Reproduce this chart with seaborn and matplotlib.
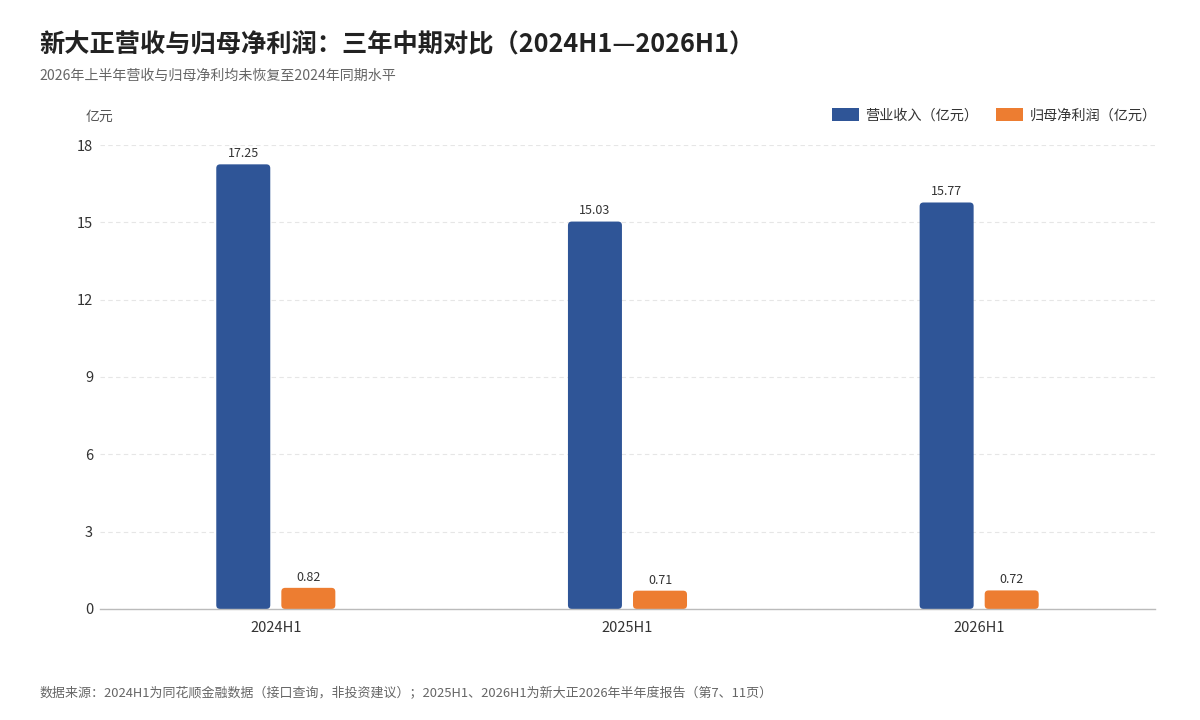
import pandas as pd
import matplotlib
matplotlib.use("Agg")
import matplotlib.pyplot as plt
from matplotlib.patches import FancyBboxPatch, Patch
import seaborn as sns

# data
periods = ["2024H1", "2025H1", "2026H1"]
revenue = [17.25, 15.03, 15.77]
net_profit = [0.82, 0.71, 0.72]
series_names = ["营业收入（亿元）", "归母净利润（亿元）"]
colors = ["#2f5597", "#ed7d31"]

df = pd.DataFrame({
    "period": periods * 2,
    "value": revenue + net_profit,
    "series": [series_names[0]] * 3 + [series_names[1]] * 3,
})

sns.set_theme(style="white")
plt.rcParams['font.family'] = ['Noto Sans CJK SC', 'DejaVu Sans']

fig = plt.figure(figsize=(12, 7.2), dpi=100)
ax = fig.add_axes([0.0833, 0.1542, 0.8792, 0.6444])

sns.barplot(data=df, x="period", y="value", hue="series", palette=colors,
            width=0.37, gap=0.17, linewidth=0, saturation=1, ax=ax, legend=False)

ax.set_xlim(-0.5, 2.5)
ax.set_ylim(0, 18)

# value labels
for cont in ax.containers:
    ax.bar_label(cont, fmt="%.2f", padding=3, fontsize=9, color="#333333")

# soften bar corners a little (same boxes, rounded)
ax_w_px = 0.8792 * 1200
ax_h_px = 0.6444 * 720
aspect = (18 / ax_h_px) / (3.0 / ax_w_px)
for cont in ax.containers:
    for p in cont.patches:
        x0, y0 = p.get_x(), p.get_y()
        w, h = p.get_width(), p.get_height()
        if not h > 0:
            continue
        fb = FancyBboxPatch((x0, y0), w, h,
                            boxstyle="round,pad=0,rounding_size=0.011",
                            mutation_aspect=aspect, facecolor=p.get_facecolor(),
                            edgecolor="none", zorder=p.get_zorder())
        p.set_visible(False)
        ax.add_patch(fb)

ax.set_yticks([0, 3, 6, 9, 12, 15, 18])
ax.yaxis.grid(True, linestyle=(0, (4, 3)), color="#e6e6e6", linewidth=0.8)
ax.set_axisbelow(True)
for s in ["top", "right", "left"]:
    ax.spines[s].set_visible(False)
ax.spines["bottom"].set_color("#bbbbbb")
ax.spines["bottom"].set_linewidth(1)
ax.spines["bottom"].set_zorder(5)
ax.tick_params(axis="both", length=0, labelsize=10.5, colors="#333333")
ax.tick_params(axis="y", pad=5)
ax.tick_params(axis="x", pad=9)
ax.set_xlabel("")
ax.set_ylabel("")

ax.text(-0.54, 19.1, "亿元", fontsize=10, color="#555555", ha="left", va="center")

handles = [Patch(facecolor=c, edgecolor="none") for c in colors]
leg = ax.legend(handles, series_names, loc="lower right", bbox_to_anchor=(1.007, 1.037),
                ncol=2, frameon=False, fontsize=10.2, handlelength=1.9,
                handleheight=1.0, columnspacing=1.2, handletextpad=0.5,
                borderaxespad=0.0)
for t in leg.get_texts():
    t.set_color("#333333")

fig.text(0.033, 0.939, "新大正营收与归母净利润：三年中期对比（2024H1—2026H1）",
         fontsize=18.2, fontweight="bold", color="#222222", ha="left", va="center")
fig.text(0.033, 0.895, "2026年上半年营收与归母净利均未恢复至2024年同期水平",
         fontsize=10.1, color="#666666", ha="left", va="center")
fig.text(0.033, 0.037, "数据来源：2024H1为同花顺金融数据（接口查询，非投资建议）；2025H1、2026H1为新大正2026年半年度报告（第7、11页）",
         fontsize=9.35, color="#666666", ha="left", va="center")

fig.savefig("out.png", dpi=100, facecolor="white")
